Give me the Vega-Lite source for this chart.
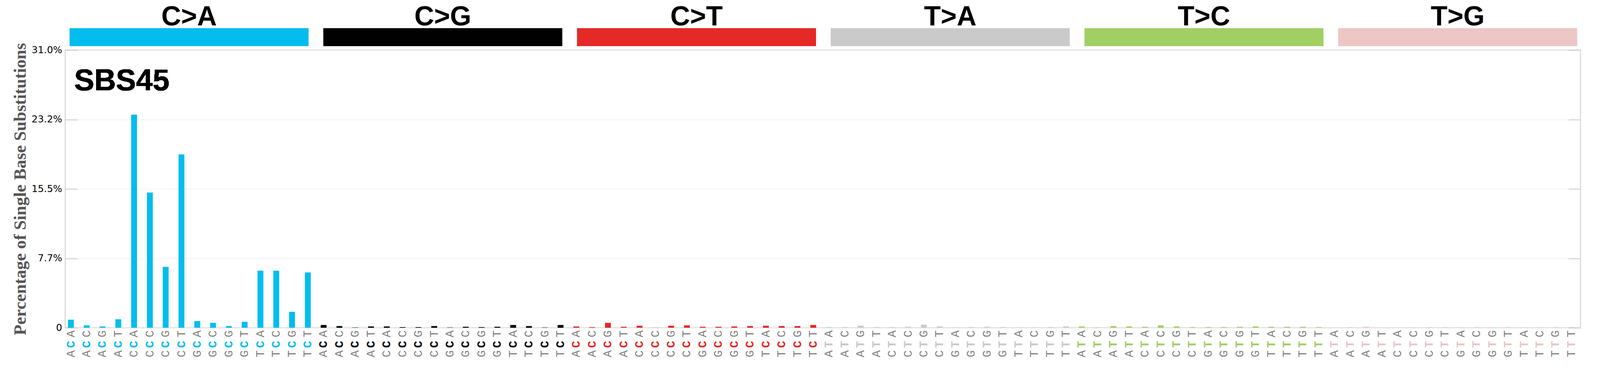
{
  "$schema": "https://vega.github.io/schema/vega-lite/v6.json",
  "background": "white",
  "padding": {"left": 27, "top": 8, "right": 0, "bottom": 0},
  "bounds": "flush",
  "spacing": 10,
  "datasets": {
    "groups": [
      {"sub": "C>A"}, {"sub": "C>G"}, {"sub": "C>T"}, {"sub": "T>A"}, {"sub": "T>C"}, {"sub": "T>G"}
    ],
    "sbs": [
      {"mut": "A[C>A]A", "sub": "C>A", "five": "A", "ref": "C", "three": "A", "pct": 0.9},
      {"mut": "A[C>A]C", "sub": "C>A", "five": "A", "ref": "C", "three": "C", "pct": 0.27},
      {"mut": "A[C>A]G", "sub": "C>A", "five": "A", "ref": "C", "three": "G", "pct": 0.15},
      {"mut": "A[C>A]T", "sub": "C>A", "five": "A", "ref": "C", "three": "T", "pct": 0.95},
      {"mut": "C[C>A]A", "sub": "C>A", "five": "C", "ref": "C", "three": "A", "pct": 23.8},
      {"mut": "C[C>A]C", "sub": "C>A", "five": "C", "ref": "C", "three": "C", "pct": 15.1},
      {"mut": "C[C>A]G", "sub": "C>A", "five": "C", "ref": "C", "three": "G", "pct": 6.8},
      {"mut": "C[C>A]T", "sub": "C>A", "five": "C", "ref": "C", "three": "T", "pct": 19.35},
      {"mut": "G[C>A]A", "sub": "C>A", "five": "G", "ref": "C", "three": "A", "pct": 0.75},
      {"mut": "G[C>A]C", "sub": "C>A", "five": "G", "ref": "C", "three": "C", "pct": 0.55},
      {"mut": "G[C>A]G", "sub": "C>A", "five": "G", "ref": "C", "three": "G", "pct": 0.19},
      {"mut": "G[C>A]T", "sub": "C>A", "five": "G", "ref": "C", "three": "T", "pct": 0.67},
      {"mut": "T[C>A]A", "sub": "C>A", "five": "T", "ref": "C", "three": "A", "pct": 6.38},
      {"mut": "T[C>A]C", "sub": "C>A", "five": "T", "ref": "C", "three": "C", "pct": 6.38},
      {"mut": "T[C>A]G", "sub": "C>A", "five": "T", "ref": "C", "three": "G", "pct": 1.78},
      {"mut": "T[C>A]T", "sub": "C>A", "five": "T", "ref": "C", "three": "T", "pct": 6.18},
      {"mut": "A[C>G]A", "sub": "C>G", "five": "A", "ref": "C", "three": "A", "pct": 0.31},
      {"mut": "A[C>G]C", "sub": "C>G", "five": "A", "ref": "C", "three": "C", "pct": 0.19},
      {"mut": "A[C>G]G", "sub": "C>G", "five": "A", "ref": "C", "three": "G", "pct": 0.03},
      {"mut": "A[C>G]T", "sub": "C>G", "five": "A", "ref": "C", "three": "T", "pct": 0.15},
      {"mut": "C[C>G]A", "sub": "C>G", "five": "C", "ref": "C", "three": "A", "pct": 0.15},
      {"mut": "C[C>G]C", "sub": "C>G", "five": "C", "ref": "C", "three": "C", "pct": 0.07},
      {"mut": "C[C>G]G", "sub": "C>G", "five": "C", "ref": "C", "three": "G", "pct": 0.07},
      {"mut": "C[C>G]T", "sub": "C>G", "five": "C", "ref": "C", "three": "T", "pct": 0.19},
      {"mut": "G[C>G]A", "sub": "C>G", "five": "G", "ref": "C", "three": "A", "pct": 0.03},
      {"mut": "G[C>G]C", "sub": "C>G", "five": "G", "ref": "C", "three": "C", "pct": 0.11},
      {"mut": "G[C>G]G", "sub": "C>G", "five": "G", "ref": "C", "three": "G", "pct": 0.07},
      {"mut": "G[C>G]T", "sub": "C>G", "five": "G", "ref": "C", "three": "T", "pct": 0.11},
      {"mut": "T[C>G]A", "sub": "C>G", "five": "T", "ref": "C", "three": "A", "pct": 0.31},
      {"mut": "T[C>G]C", "sub": "C>G", "five": "T", "ref": "C", "three": "C", "pct": 0.19},
      {"mut": "T[C>G]G", "sub": "C>G", "five": "T", "ref": "C", "three": "G", "pct": 0.03},
      {"mut": "T[C>G]T", "sub": "C>G", "five": "T", "ref": "C", "three": "T", "pct": 0.31},
      {"mut": "A[C>T]A", "sub": "C>T", "five": "A", "ref": "C", "three": "A", "pct": 0.15},
      {"mut": "A[C>T]C", "sub": "C>T", "five": "A", "ref": "C", "three": "C", "pct": 0.07},
      {"mut": "A[C>T]G", "sub": "C>T", "five": "A", "ref": "C", "three": "G", "pct": 0.55},
      {"mut": "A[C>T]T", "sub": "C>T", "five": "A", "ref": "C", "three": "T", "pct": 0.11},
      {"mut": "C[C>T]A", "sub": "C>T", "five": "C", "ref": "C", "three": "A", "pct": 0.23},
      {"mut": "C[C>T]C", "sub": "C>T", "five": "C", "ref": "C", "three": "C", "pct": 0.01},
      {"mut": "C[C>T]G", "sub": "C>T", "five": "C", "ref": "C", "three": "G", "pct": 0.23},
      {"mut": "C[C>T]T", "sub": "C>T", "five": "C", "ref": "C", "three": "T", "pct": 0.27},
      {"mut": "G[C>T]A", "sub": "C>T", "five": "G", "ref": "C", "three": "A", "pct": 0.11},
      {"mut": "G[C>T]C", "sub": "C>T", "five": "G", "ref": "C", "three": "C", "pct": 0.11},
      {"mut": "G[C>T]G", "sub": "C>T", "five": "G", "ref": "C", "three": "G", "pct": 0.15},
      {"mut": "G[C>T]T", "sub": "C>T", "five": "G", "ref": "C", "three": "T", "pct": 0.19},
      {"mut": "T[C>T]A", "sub": "C>T", "five": "T", "ref": "C", "three": "A", "pct": 0.23},
      {"mut": "T[C>T]C", "sub": "C>T", "five": "T", "ref": "C", "three": "C", "pct": 0.19},
      {"mut": "T[C>T]G", "sub": "C>T", "five": "T", "ref": "C", "three": "G", "pct": 0.19},
      {"mut": "T[C>T]T", "sub": "C>T", "five": "T", "ref": "C", "three": "T", "pct": 0.31},
      {"mut": "A[T>A]A", "sub": "T>A", "five": "A", "ref": "T", "three": "A", "pct": 0.07},
      {"mut": "A[T>A]C", "sub": "T>A", "five": "A", "ref": "T", "three": "C", "pct": 0.07},
      {"mut": "A[T>A]G", "sub": "T>A", "five": "A", "ref": "T", "three": "G", "pct": 0.23},
      {"mut": "A[T>A]T", "sub": "T>A", "five": "A", "ref": "T", "three": "T", "pct": 0.07},
      {"mut": "C[T>A]A", "sub": "T>A", "five": "C", "ref": "T", "three": "A", "pct": 0.07},
      {"mut": "C[T>A]C", "sub": "T>A", "five": "C", "ref": "T", "three": "C", "pct": 0.11},
      {"mut": "C[T>A]G", "sub": "T>A", "five": "C", "ref": "T", "three": "G", "pct": 0.35},
      {"mut": "C[T>A]T", "sub": "T>A", "five": "C", "ref": "T", "three": "T", "pct": 0.15},
      {"mut": "G[T>A]A", "sub": "T>A", "five": "G", "ref": "T", "three": "A", "pct": 0.03},
      {"mut": "G[T>A]C", "sub": "T>A", "five": "G", "ref": "T", "three": "C", "pct": 0.07},
      {"mut": "G[T>A]G", "sub": "T>A", "five": "G", "ref": "T", "three": "G", "pct": 0.11},
      {"mut": "G[T>A]T", "sub": "T>A", "five": "G", "ref": "T", "three": "T", "pct": 0.07},
      {"mut": "T[T>A]A", "sub": "T>A", "five": "T", "ref": "T", "three": "A", "pct": 0.03},
      {"mut": "T[T>A]C", "sub": "T>A", "five": "T", "ref": "T", "three": "C", "pct": 0.03},
      {"mut": "T[T>A]G", "sub": "T>A", "five": "T", "ref": "T", "three": "G", "pct": 0.07},
      {"mut": "T[T>A]T", "sub": "T>A", "five": "T", "ref": "T", "three": "T", "pct": 0.15},
      {"mut": "A[T>C]A", "sub": "T>C", "five": "A", "ref": "T", "three": "A", "pct": 0.15},
      {"mut": "A[T>C]C", "sub": "T>C", "five": "A", "ref": "T", "three": "C", "pct": 0.03},
      {"mut": "A[T>C]G", "sub": "T>C", "five": "A", "ref": "T", "three": "G", "pct": 0.19},
      {"mut": "A[T>C]T", "sub": "T>C", "five": "A", "ref": "T", "three": "T", "pct": 0.15},
      {"mut": "C[T>C]A", "sub": "T>C", "five": "C", "ref": "T", "three": "A", "pct": 0.11},
      {"mut": "C[T>C]C", "sub": "T>C", "five": "C", "ref": "T", "three": "C", "pct": 0.27},
      {"mut": "C[T>C]G", "sub": "T>C", "five": "C", "ref": "T", "three": "G", "pct": 0.15},
      {"mut": "C[T>C]T", "sub": "T>C", "five": "C", "ref": "T", "three": "T", "pct": 0.07},
      {"mut": "G[T>C]A", "sub": "T>C", "five": "G", "ref": "T", "three": "A", "pct": 0.07},
      {"mut": "G[T>C]C", "sub": "T>C", "five": "G", "ref": "T", "three": "C", "pct": 0.07},
      {"mut": "G[T>C]G", "sub": "T>C", "five": "G", "ref": "T", "three": "G", "pct": 0.11},
      {"mut": "G[T>C]T", "sub": "T>C", "five": "G", "ref": "T", "three": "T", "pct": 0.15},
      {"mut": "T[T>C]A", "sub": "T>C", "five": "T", "ref": "T", "three": "A", "pct": 0.11},
      {"mut": "T[T>C]C", "sub": "T>C", "five": "T", "ref": "T", "three": "C", "pct": 0.11},
      {"mut": "T[T>C]G", "sub": "T>C", "five": "T", "ref": "T", "three": "G", "pct": 0.11},
      {"mut": "T[T>C]T", "sub": "T>C", "five": "T", "ref": "T", "three": "T", "pct": 0.07},
      {"mut": "A[T>G]A", "sub": "T>G", "five": "A", "ref": "T", "three": "A", "pct": 0.03},
      {"mut": "A[T>G]C", "sub": "T>G", "five": "A", "ref": "T", "three": "C", "pct": 0.07},
      {"mut": "A[T>G]G", "sub": "T>G", "five": "A", "ref": "T", "three": "G", "pct": 0.11},
      {"mut": "A[T>G]T", "sub": "T>G", "five": "A", "ref": "T", "three": "T", "pct": 0.03},
      {"mut": "C[T>G]A", "sub": "T>G", "five": "C", "ref": "T", "three": "A", "pct": 0.03},
      {"mut": "C[T>G]C", "sub": "T>G", "five": "C", "ref": "T", "three": "C", "pct": 0.03},
      {"mut": "C[T>G]G", "sub": "T>G", "five": "C", "ref": "T", "three": "G", "pct": 0.07},
      {"mut": "C[T>G]T", "sub": "T>G", "five": "C", "ref": "T", "three": "T", "pct": 0.07},
      {"mut": "G[T>G]A", "sub": "T>G", "five": "G", "ref": "T", "three": "A", "pct": 0.03},
      {"mut": "G[T>G]C", "sub": "T>G", "five": "G", "ref": "T", "three": "C", "pct": 0.07},
      {"mut": "G[T>G]G", "sub": "T>G", "five": "G", "ref": "T", "three": "G", "pct": 0.03},
      {"mut": "G[T>G]T", "sub": "T>G", "five": "G", "ref": "T", "three": "T", "pct": 0.07},
      {"mut": "T[T>G]A", "sub": "T>G", "five": "T", "ref": "T", "three": "A", "pct": 0.03},
      {"mut": "T[T>G]C", "sub": "T>G", "five": "T", "ref": "T", "three": "C", "pct": 0.03},
      {"mut": "T[T>G]G", "sub": "T>G", "five": "T", "ref": "T", "three": "G", "pct": 0.07},
      {"mut": "T[T>G]T", "sub": "T>G", "five": "T", "ref": "T", "three": "T", "pct": 0.07}
    ]
  },
  "vconcat": [
    {
      "width": 3879,
      "height": 46,
      "data": {"name": "groups"},
      "view": {"stroke": null},
      "mark": {"type": "rect"},
      "encoding": {
        "x": {
          "field": "sub", "type": "nominal", "sort": null,
          "scale": {"paddingInner": 0.058, "paddingOuter": 0.015, "align": 0.57},
          "axis": {
            "orient": "top", "title": null, "ticks": false, "domain": false,
            "labelAngle": 0, "labelFont": "Liberation Sans", "labelFontWeight": "bold",
            "labelFontSize": 70, "labelColor": "black", "labelBaseline": "alphabetic",
            "labelPadding": 8
          }
        },
        "color": {
          "field": "sub", "type": "nominal",
          "scale": {
            "domain": ["C>A", "C>G", "C>T", "T>A", "T>C", "T>G"],
            "range": ["#03BDEF", "#010101", "#E42926", "#CBCACA", "#A2CF63", "#ECC7C5"]
          },
          "legend": null
        }
      }
    },
    {
      "width": 3879,
      "height": 710,
      "data": {"name": "sbs"},
      "view": {"stroke": "#d7d7d7", "strokeWidth": 2.8},
      "resolve": {"axis": {"x": "independent", "y": "independent"}},
      "layer": [
        {
          "mark": {"type": "bar"},
          "encoding": {
            "x": {
              "field": "mut", "type": "nominal", "sort": null,
              "scale": {"paddingInner": 0.63, "paddingOuter": 0.28, "align": 0.31},
              "axis": null
            },
            "y": {
              "field": "pct", "type": "quantitative",
              "scale": {"domain": [0, 31], "nice": false},
              "axis": {
                "title": "Percentage of Single Base Substitutions",
                "values": [0, 7.75, 15.5, 23.25, 31],
                "labelExpr": "datum.value == 0 ? '0' : format(floor(datum.value * 10 + 0.000001) / 10, '.1f') + '%'",
                "labelFont": "DejaVu Sans", "labelFontSize": 24.6, "labelColor": "black",
                "ticks": true, "tickSize": -30.7, "tickColor": "#d0d0d0", "tickWidth": 2.3,
                "labelPadding": 39, "domain": false,
                "grid": true, "gridColor": "#efefef", "gridWidth": 1.4,
                "titleFont": "Liberation Serif", "titleFontWeight": "bold", "titleFontSize": 44.6,
                "titleColor": "#555555", "titlePadding": 6.5
              }
            },
            "color": {
              "field": "sub", "type": "nominal",
              "scale": {
                "domain": ["C>A", "C>G", "C>T", "T>A", "T>C", "T>G"],
                "range": ["#03BDEF", "#010101", "#E42926", "#CBCACA", "#A2CF63", "#ECC7C5"]
              },
              "legend": null
            }
          }
        },
        {
          "mark": {"type": "bar", "opacity": 0},
          "encoding": {
            "x": {"field": "mut", "type": "nominal", "sort": null, "axis": null},
            "y": {
              "field": "pct", "type": "quantitative",
              "axis": {
                "orient": "right", "title": null, "labels": false, "values": [0, 7.75, 15.5, 23.25, 31],
                "ticks": true, "tickSize": -30.7, "tickColor": "#d0d0d0", "tickWidth": 2.3,
                "domain": false, "grid": false
              }
            }
          }
        },
        {
          "mark": {
            "type": "text", "font": "Liberation Mono", "fontSize": 30, "angle": 270,
            "align": "right", "baseline": "middle", "color": "#808080"
          },
          "encoding": {
            "x": {"field": "mut", "type": "nominal", "sort": null, "axis": null},
            "y": {"datum": -0.28, "type": "quantitative", "axis": null},
            "text": {"field": "three"}
          }
        },
        {
          "mark": {
            "type": "text", "font": "Liberation Mono", "fontWeight": "bold", "fontSize": 30, "angle": 270,
            "align": "right", "baseline": "middle"
          },
          "encoding": {
            "x": {"field": "mut", "type": "nominal", "sort": null, "axis": null},
            "y": {"datum": -1.46, "type": "quantitative", "axis": null},
            "text": {"field": "ref"},
            "color": {"field": "sub", "type": "nominal", "legend": null}
          }
        },
        {
          "mark": {
            "type": "text", "font": "Liberation Mono", "fontSize": 30, "angle": 270,
            "align": "right", "baseline": "middle", "color": "#808080"
          },
          "encoding": {
            "x": {"field": "mut", "type": "nominal", "sort": null, "axis": null},
            "y": {"datum": -2.51, "type": "quantitative", "axis": null},
            "text": {"field": "five"}
          }
        },
        {
          "mark": {
            "type": "text", "font": "Liberation Sans", "fontWeight": "bold", "fontSize": 77,
            "align": "left", "baseline": "alphabetic", "dx": 8.4, "color": "black"
          },
          "encoding": {
            "x": {"datum": "A[C>A]A", "type": "nominal", "axis": null},
            "y": {"datum": 26.5, "type": "quantitative", "axis": null},
            "text": {"value": "SBS45"}
          }
        }
      ]
    }
  ]
}
